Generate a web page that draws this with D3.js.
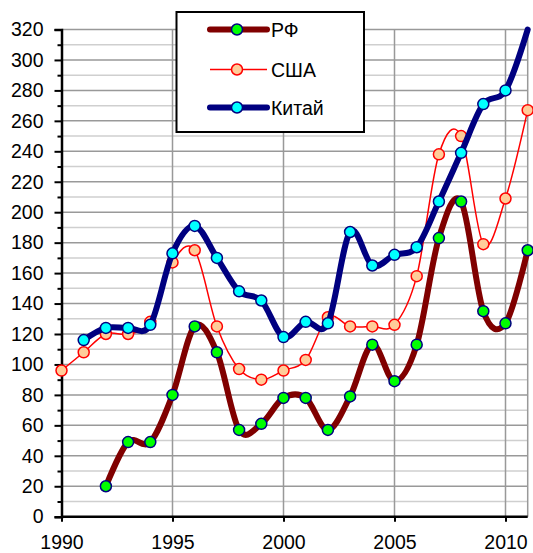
<!DOCTYPE html>
<html>
<head>
<meta charset="UTF-8">
<style>
  body { margin: 0; background: #fff; }
  svg { font-family: "Liberation Sans", Arial, sans-serif; }
</style>
</head>
<body>
<svg></svg>
<script src="https://d3js.org/d3.v7.min.js"></script>
<script>

let width = 533, height = 553;

// data
let rfYears  = [1992,1993,1994,1995,1996,1997,1998,1999,2000,2001,2002,2003,2004,2005,2006,2007,2008,2009,2010,2011];
let rfValues = [20,49,49,80,125,108,57,61,78,78,57,79,113,89,113,183,207,135,127,175];

let usaYears  = [1990,1991,1992,1993,1994,1995,1996,1997,1998,1999,2000,2001,2002,2003,2004,2005,2006,2007,2008,2009,2010,2011];
let usaValues = [96,108,120,120,128,167,175,125,97,90,96,103,131,125,125,126,158,238,250,179,209,267];

let chinaYears  = [1991,1992,1993,1994,1995,1996,1997,1998,1999,2000,2001,2002,2003,2004,2005,2006,2007,2008,2009,2010,2011];
let chinaValues = [116,124,124,126,173,191,170,148,142,118,128,127,187,165,172,177,207,239,271,280,320];

let xTicks = [1990, 1995, 2000, 2005, 2010];
let legendNames = ["РФ", "США", "Китай"];

let svg = d3.select("svg")
    .attr("width", width)
    .attr("height", height);

let x = d3.scaleLinear().domain([1990, 2011]).range([61.5, 527.7]);
let y = d3.scaleLinear().domain([0, 320]).range([516.7, 29.5]);

// gridlines
let grid = svg.append("g");
grid.selectAll(".minor")
    .data(d3.range(10, 320, 20))
    .enter().append("line")
    .attr("x1", x(1990)).attr("x2", x(2011))
    .attr("y1", d => y(d)).attr("y2", d => y(d))
    .attr("stroke", "#cfcfcf").attr("stroke-width", 1.5);
grid.selectAll(".major")
    .data(d3.range(20, 340, 20))
    .enter().append("line")
    .attr("x1", x(1990)).attr("x2", x(2011))
    .attr("y1", d => y(d)).attr("y2", d => y(d))
    .attr("stroke", "#999").attr("stroke-width", 1.5);
grid.selectAll(".vert")
    .data([1995, 2000, 2005, 2010, 2011])
    .enter().append("line")
    .attr("x1", d => x(d)).attr("x2", d => x(d))
    .attr("y1", y(0)).attr("y2", y(320))
    .attr("stroke", "#999").attr("stroke-width", 1.5);

// axes
let yAxis = d3.axisLeft(y)
    .tickValues(d3.range(0, 340, 20))
    .tickSize(7).tickPadding(11);
let yMinor = d3.axisLeft(y)
    .tickValues(d3.range(10, 320, 20))
    .tickSize(4).tickFormat("");
let xAxis = d3.axisBottom(x)
    .tickValues(xTicks)
    .tickSize(5).tickPadding(13)
    .tickFormat(d3.format("d"));

let gy = svg.append("g").attr("transform", `translate(${x(1990)},0)`).call(yAxis);
svg.append("g").attr("transform", `translate(${x(1990)},0)`).call(yMinor)
    .select(".domain").remove();
let gx = svg.append("g").attr("transform", `translate(0,${y(0)})`).call(xAxis);

[gy, gx].forEach(g => {
    g.select(".domain").attr("stroke", "#000").attr("stroke-width", 2.5);
    g.selectAll("text").attr("font-size", 19.5).attr("fill", "#000")
        .attr("font-family", "Liberation Sans, Arial, sans-serif");
});
svg.selectAll(".tick line").attr("stroke", "#000").attr("stroke-width", 2);
gx.select(".domain").attr("d", `M${x(1990)},0H${x(2011)}`);

// series
let series = [
    { name: legendNames[0], years: rfYears, values: rfValues, color: "#800000", width: 6, fill: "#00ff00", mstroke: "#000080", markers: rfYears },
    { name: legendNames[1], years: usaYears, values: usaValues, color: "#ff0000", width: 1.5, fill: "#ffcc99", mstroke: "#ff0000", markers: usaYears },
    { name: legendNames[2], years: chinaYears, values: chinaValues, color: "#000080", width: 6, fill: "#00ffff", mstroke: "#000080", markers: chinaYears.slice(0, -1) }
];

let line = d3.line()
    .x(d => x(d[0]))
    .y(d => y(d[1]))
    .curve(d3.curveCatmullRom.alpha(0));

series.forEach(s => {
    let pts = s.years.map((yr, i) => [yr, s.values[i]]);
    svg.append("path")
        .datum(pts)
        .attr("d", line)
        .attr("fill", "none")
        .attr("stroke", s.color)
        .attr("stroke-width", s.width)
        .attr("stroke-linejoin", "round")
        .attr("stroke-linecap", "round");
    svg.append("g").selectAll("circle")
        .data(pts.filter(p => s.markers.includes(p[0])))
        .enter().append("circle")
        .attr("cx", d => x(d[0]))
        .attr("cy", d => y(d[1]))
        .attr("r", 5.5)
        .attr("fill", s.fill)
        .attr("stroke", s.mstroke)
        .attr("stroke-width", 1.5);
});

// legend
let legend = svg.append("g");
legend.append("rect")
    .attr("x", 176.5).attr("y", 12)
    .attr("width", 187.5).attr("height", 120)
    .attr("fill", "#fff").attr("stroke", "#000").attr("stroke-width", 2);

let rows = legend.selectAll(".row")
    .data(series)
    .enter().append("g")
    .attr("transform", (d, i) => `translate(0,${[29.5, 69.5, 107.5][i]})`);
rows.append("line")
    .attr("x1", 210).attr("x2", 267)
    .attr("stroke", d => d.color)
    .attr("stroke-width", d => d.width)
    .attr("stroke-linecap", d => d.width > 2 ? "round" : "butt");
rows.append("circle")
    .attr("cx", 237).attr("r", 5.5)
    .attr("fill", d => d.fill)
    .attr("stroke", d => d.mstroke)
    .attr("stroke-width", 1.5);
rows.append("text")
    .attr("x", 271).attr("dy", "0.36em")
    .attr("font-size", 19.5)
    .text(d => d.name);

</script>
</body>
</html>
